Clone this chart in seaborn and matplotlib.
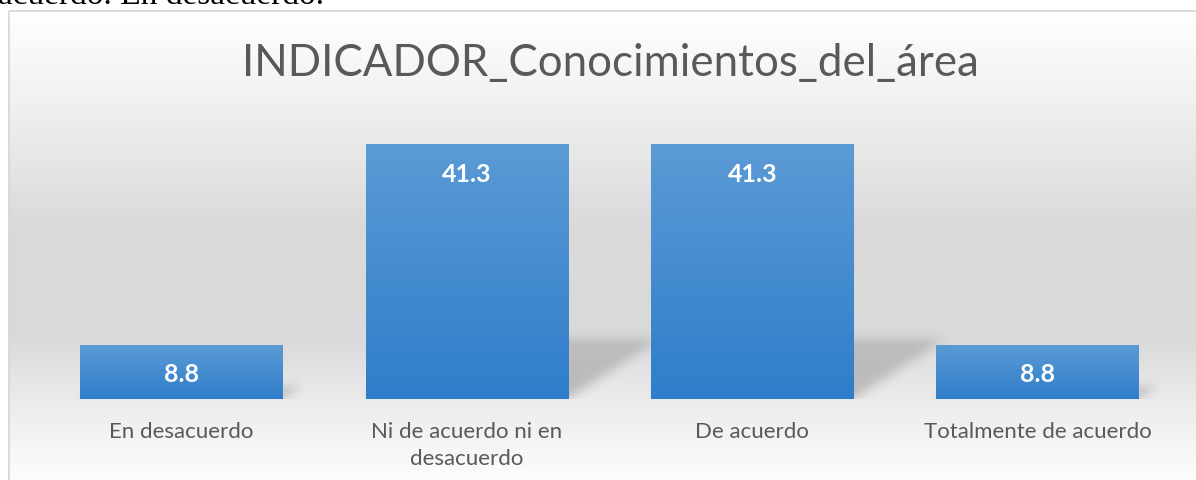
import numpy as np
import matplotlib
matplotlib.use("Agg")
import matplotlib.pyplot as plt
import matplotlib.colors as mcolors
from matplotlib.patches import Rectangle
import seaborn as sns

# Datos del gráfico
categorias = ["En desacuerdo", "Ni de acuerdo ni en\ndesacuerdo",
              "De acuerdo", "Totalmente de acuerdo"]
porcentajes = [8.8, 41.3, 41.3, 8.8]
etiquetas = ["8.8", "41.3", "41.3", "8.8"]
titulo = "INDICADOR_Conocimientos_del_área"
texto_documento = "acuerdo. En desacuerdo."

W, H = 1196, 481
gris_texto = "#595959"

sns.set_style("white")
plt.rcParams['font.family'] = ['Lato', 'DejaVu Sans']

fig = plt.figure(figsize=(W / 100, H / 100), dpi=100)

# Fondo con degradado (blanco - gris - blanco) y marco
fondo = fig.add_axes([0, 0, 1, 1])
fondo.set_xlim(0, W)
fondo.set_ylim(H, 0)
fondo.axis('off')
paradas = [(0.0, '#ffffff'), (0.19, '#f1f1f1'), (0.47, '#d9d9d9'),
           (0.70, '#dadada'), (0.84, '#ececec'), (1.0, '#fdfdfd')]
cmap_fondo = mcolors.LinearSegmentedColormap.from_list('fondo', paradas)
grad = np.linspace(0, 1, 256).reshape(-1, 1)
fondo.imshow(grad, cmap=cmap_fondo, aspect='auto',
             extent=(8.5, W + 5, H, 11.5), zorder=0)
fondo.add_patch(Rectangle((8.5, 11.5), W, H, fill=False,
                          edgecolor='#d4d4d4', lw=1.2, zorder=1))

# Texto del documento cortado arriba (como en la captura)
fig.text(-2 / W, 1 - 4 / H, texto_documento, family='Liberation Serif',
         fontsize=24, va='baseline', ha='left', color='black')

# Título
fig.text(610 / W, 1 - 63 / H, titulo, ha='center', va='center',
         fontsize=31.6, color=gris_texto)

# Ejes principales
ax = fig.add_axes([38.75 / W, (H - 400) / H, (1180.25 - 38.75) / W, 278 / H])
ax.patch.set_alpha(0)
sns.barplot(x=categorias, y=porcentajes, width=0.71, color='#4a8fd4',
            linewidth=0, ax=ax, zorder=3)

x_lim, y_lim = (-0.5, 3.5), (0, 45)

# Sombra en perspectiva: máscara en coordenadas de datos, luego difuminada
gx = np.linspace(*x_lim, 1142)
gy = np.linspace(*y_lim, 278)
XX, YY = np.meshgrid(gx, gy)
mascara = np.zeros_like(XX)
for barra in ax.patches:
    x0, w, h = barra.get_x(), barra.get_width(), barra.get_height()
    dx, alto = 0.0078 * h, 0.235 * h
    t = YY / alto
    dentro = (YY >= 0) & (YY <= alto) & (XX >= x0 + dx * t) & (XX <= x0 + w + dx * t)
    mascara = np.maximum(mascara, np.where(dentro, 1 - 0.3 * t, 0))


def difuminar(m, sigma):
    k = np.arange(-3 * sigma, 3 * sigma + 1)
    ker = np.exp(-k ** 2 / (2 * sigma ** 2))
    ker /= ker.sum()
    m = np.apply_along_axis(lambda r: np.convolve(r, ker, mode='same'), 1, m)
    m = np.apply_along_axis(lambda c: np.convolve(c, ker, mode='same'), 0, m)
    return m


mascara = difuminar(mascara, 5)
sombra = np.zeros(mascara.shape + (4,))
sombra[..., 3] = 0.2 * mascara
ax.imshow(sombra, origin='lower', aspect='auto',
          extent=(*x_lim, *y_lim), zorder=2, interpolation='bilinear')

# Degradado vertical dentro de cada barra
azul = mcolors.LinearSegmentedColormap.from_list('azul', ['#5b9bd5', '#2f7dca'])
for barra in ax.patches:
    barra.set_edgecolor('none')
    x0, w, h = barra.get_x(), barra.get_width(), barra.get_height()
    im = ax.imshow(grad, cmap=azul, aspect='auto',
                   extent=(x0, x0 + w, 0, h), zorder=4)
    im.set_clip_path(barra)

for i, (v, txt) in enumerate(zip(porcentajes, etiquetas)):
    ax.annotate(txt, (i, v), xytext=(0, -21), textcoords='offset points',
                ha='center', va='center', color='white', fontsize=18,
                fontweight='bold', zorder=5)

ax.set_xlim(*x_lim)
ax.set_ylim(*y_lim)
ax.set_yticks([])
ax.set_xlabel('')
ax.set_ylabel('')
ax.tick_params(axis='x', length=0, pad=16, labelsize=16, colors=gris_texto)
for lbl in ax.get_xticklabels():
    lbl.set_linespacing(1.4)
sns.despine(ax=ax, left=True, bottom=True)

fig.savefig("out.png", dpi=100)
